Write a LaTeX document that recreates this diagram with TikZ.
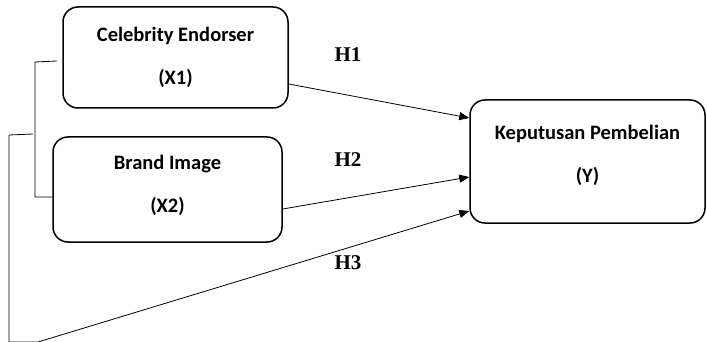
\documentclass[tikz,border=0pt]{standalone}
\usepackage{fontspec}
\setmainfont{Carlito}
\newfontfamily\hfont{Liberation Serif}
\usetikzlibrary{arrows.meta}

% extra depth under the last line, lifts the text inside its box
\newcommand\lift[1]{\rule[-#1]{0pt}{#1}}

\tikzset{
  var/.style={draw, line width=1.5pt, rounded corners=15pt, align=center,
    inner sep=0pt, font=\bfseries\fontsize{20.5}{43}\selectfont},
  hyp/.style={font=\hfont\bfseries\fontsize{21}{21}\selectfont},
  link/.style={line width=0.8pt, -{Triangle[length=10pt,width=8pt]}},
  joint/.style={line width=0.8pt}
}

\begin{document}
\begin{tikzpicture}[x=1pt,y=-1pt]
    \useasboundingbox (0,0) rectangle (707,342);
    % variables
    \node[var, minimum width=225pt, minimum height=101pt] (X1) at (175.5,57.5) {Celebrity Endorser\\(X1)};
    \node[var, minimum width=229pt, minimum height=105pt] (X2) at (167.5,189.5) {Brand Image\\(X2)\lift{11pt}};
    \node[var, minimum width=235pt, minimum height=123pt] (Y) at (587.5,161.5) {Keputusan Pembelian\\(Y)\lift{15pt}};
    % hypotheses
    \node[hyp] (H1) at (348,55) {H1};
    \node[hyp] (H2) at (348,160) {H2};
    \node[hyp] (H3) at (348,263) {H3};
    % bracket joining X1 and X2
    \coordinate (J1) at (57,61);
    \coordinate (J2) at (35,62);
    \coordinate (J3) at (35,197);
    \coordinate (K1) at (33,134);
    \coordinate (K2) at (9,135);
    \coordinate (K3) at (9,342);
    \coordinate (K4) at (38,342);
    \draw[joint] (J1) -- (J2) -- (J3) -- ([yshift=-7.5pt]X2.west);
    \draw[joint] (K1) -- (K2) -- (K3) -- (K4);
    % paths
    \draw[link] ([yshift=-26.5pt]X1.east) -- ([yshift=43.5pt]Y.west);
    \draw[link] ([yshift=-19.5pt]X2.east) -- ([yshift=-15.5pt]Y.west);
    \draw[link] (K4) -- ([yshift=-49.5pt]Y.west);
\end{tikzpicture}
\end{document}
